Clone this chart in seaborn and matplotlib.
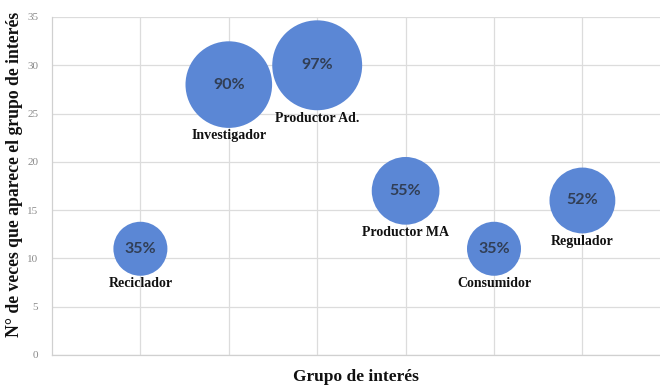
import numpy as np
import pandas as pd
import matplotlib
matplotlib.use("Agg")
import matplotlib.pyplot as plt
import seaborn as sns

# Stakeholder groups, how often each appears, and its share (%)
grupos = ["Reciclador", "Investigador", "Productor Ad.", "Productor MA", "Consumidor", "Regulador"]
posicion = [1, 2, 3, 4, 5, 6]
apariciones = [11, 28, 30, 17, 11, 16]
porcentaje = [35, 90, 97, 55, 35, 52]
y_ticks = [0, 5, 10, 15, 20, 25, 30, 35]

df = pd.DataFrame({"grupo": grupos, "x": posicion, "y": apariciones, "pct": porcentaje})

sns.set_theme(style="white")
serif = ["Liberation Serif", "DejaVu Serif"]
sans = ["Lato", "DejaVu Sans"]

fig = plt.figure(figsize=(6.6, 3.85), dpi=100)
ax = fig.add_axes([52 / 660, 1 - 355 / 385, (660 - 52) / 660, (355 - 17) / 385])

# Bubble area proportional to the percentage
area_per_pct = 43.2
sns.scatterplot(data=df, x="x", y="y", size="pct",
                sizes=(area_per_pct * min(porcentaje), area_per_pct * max(porcentaje)),
                color="#5B87D5", edgecolor="none", alpha=1, legend=False, ax=ax, zorder=3)

ax.set_xlim(0, 608 / 88.4)
ax.set_ylim(0, 35)
ax.set_xticks(posicion)
ax.set_xticklabels([])
ax.set_yticks(y_ticks)
ax.set_yticklabels([str(t) for t in y_ticks], fontfamily=serif, fontsize=8, color="#8a8a8a")
ax.tick_params(axis="both", length=0, pad=10)
ax.grid(True, color="#dcdcdc", linewidth=0.9, zorder=0)
ax.set_axisbelow(True)
for side in ["top", "right"]:
    ax.spines[side].set_visible(False)
for side in ["left", "bottom"]:
    ax.spines[side].set_color("#d0d0d0")
    ax.spines[side].set_linewidth(0.9)

for g, x, y, p in zip(grupos, posicion, apariciones, porcentaje):
    radius_pt = np.sqrt(area_per_pct * p) / 2
    ax.text(x, y, f"{p}%", ha="center", va="center", fontfamily=sans,
            fontweight="bold", fontsize=11.5, color="#313e55", zorder=4)
    ax.annotate(g, (x, y), xytext=(0, -radius_pt - 1), textcoords="offset points",
                ha="center", va="top", fontfamily=serif, fontweight="bold",
                fontsize=10, color="#111111", zorder=4)

ax.set_xlabel("")
ax.set_ylabel("")
fig.text(356 / 660, 1 - 377 / 385, "Grupo de interés", ha="center", va="center",
         fontfamily=serif, fontweight="bold", fontsize=12.5, color="#111111")
fig.text(15 / 660, 1 - 174 / 385, "N° de veces que aparece el grupo de interés",
         ha="center", va="center", rotation=90, fontfamily=serif,
         fontweight="bold", fontsize=12.7, color="#111111")

fig.savefig("out.png", dpi=100)
